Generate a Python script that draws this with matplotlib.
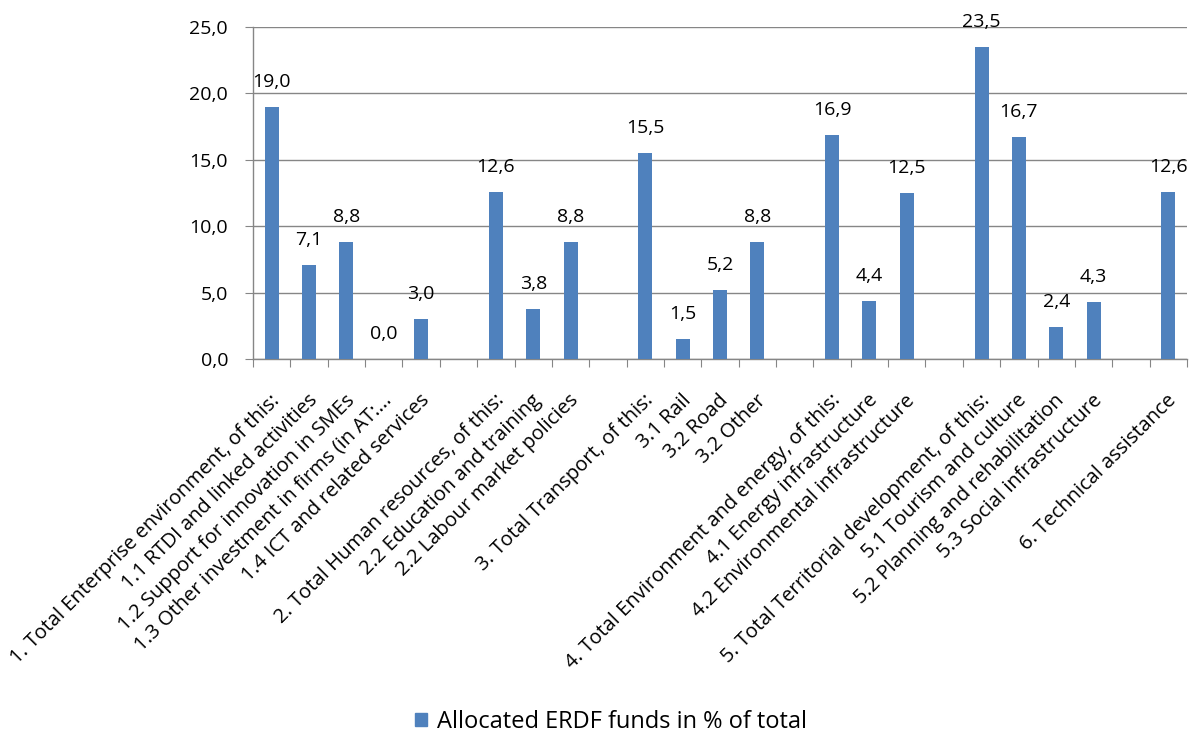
import matplotlib
matplotlib.use("Agg")
import matplotlib.pyplot as plt
from matplotlib.patches import Patch
import numpy as np

categories = [
    "1. Total Enterprise environment, of this:",
    "1.1 RTDI and linked activities",
    "1.2 Support for innovation in SMEs",
    "1.3 Other investment in firms (in AT:...",
    "1.4 ICT and related services",
    "",
    "2. Total Human resources, of this:",
    "2.2 Education and training",
    "2.2 Labour market policies",
    "",
    "3. Total Transport, of this:",
    "3.1 Rail",
    "3.2 Road",
    "3.2 Other",
    "",
    "4. Total Environment and energy, of this:",
    "4.1 Energy infrastructure",
    "4.2 Environmental infrastructure",
    "",
    "5. Total Territorial development, of this:",
    "5.1 Tourism and culture",
    "5.2 Planning and rehabilitation",
    "5.3 Social infrastructure",
    "",
    "6. Technical assistance",
]
values = [19.0, 7.1, 8.8, 0.0, 3.0, None,
          12.6, 3.8, 8.8, None,
          15.5, 1.5, 5.2, 8.8, None,
          16.9, 4.4, 12.5, None,
          23.5, 16.7, 2.4, 4.3, None,
          12.6]
series_name = "Allocated ERDF funds in % of total"
yticks = [0, 5, 10, 15, 20, 25]

plt.rcParams['font.family'] = ['Open Sans', 'DejaVu Sans']
color = "#4F81BD"
grid_c = "#868686"

fig = plt.figure(figsize=(11.91, 7.34), dpi=100)
ax = fig.add_axes([253/1191, 1-359/734, (1187-253)/1191, (359-27)/734])

x = np.arange(len(categories))
for xi, v in zip(x, values):
    if v is None:
        continue
    ax.bar(xi, v, width=0.375, color=color, zorder=3)
    ax.annotate(f"{v:.1f}".replace(".", ","), (xi, v), xytext=(0, 25),
                textcoords="offset pixels", ha="center", va="center",
                fontsize=14, color="black", zorder=4)

ax.set_xlim(-0.5, len(categories) - 0.5)
ax.set_ylim(0, 25)
ax.set_yticks(yticks)
ax.set_yticklabels([f"{t:.1f}".replace(".", ",") for t in yticks], fontsize=14)
ax.yaxis.grid(True, color=grid_c, linewidth=1, zorder=0)
ax.set_axisbelow(True)

ax.set_xticks(np.arange(-0.5, len(categories) + 0.5, 1.0))
ax.set_xticklabels([])
ax.tick_params(axis="x", length=6, color=grid_c, direction="out")
ax.tick_params(axis="y", length=6, color=grid_c, direction="out", pad=12)
for s in ["top", "right"]:
    ax.spines[s].set_visible(False)
for s in ["left", "bottom"]:
    ax.spines[s].set_color(grid_c)
    ax.spines[s].set_linewidth(1)

trans = ax.get_xaxis_transform()
for xi, lab in zip(x, categories):
    if not lab:
        continue
    ax.text(xi - 0.05, -0.095, lab, transform=trans, rotation=45,
            ha="right", va="top", rotation_mode="anchor", fontsize=14.5)

fig.legend(handles=[Patch(color=color, label=series_name)], loc="center",
           bbox_to_anchor=(611/1191, 1-722/734), frameon=False, fontsize=17,
           handlelength=0.5, handleheight=0.5, handletextpad=0.45)

fig.savefig("out.png", dpi=100)
